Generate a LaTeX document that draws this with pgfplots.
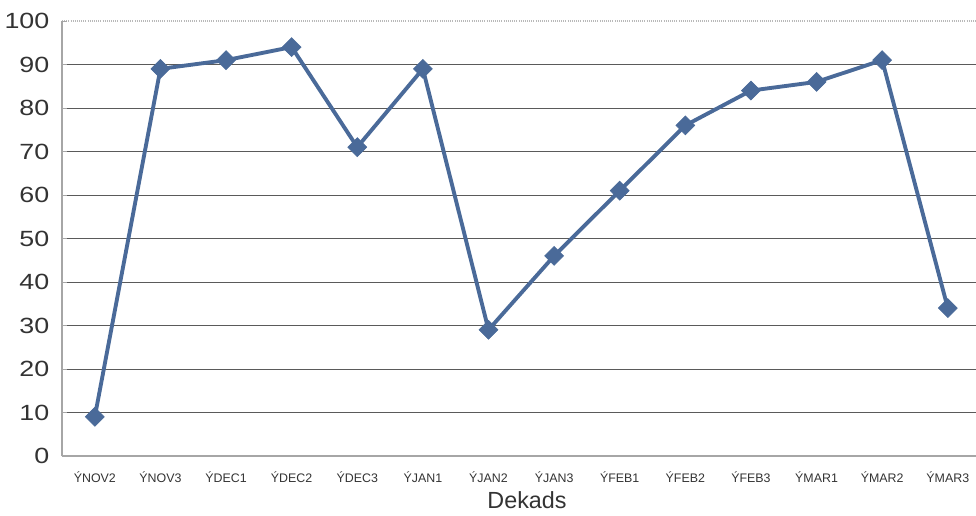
\documentclass[border=0pt]{standalone}
\usepackage{pgfplots}
\pgfplotsset{compat=1.18}
\usepackage{fontspec}
\setmainfont{Liberation Sans}
\newfontfamily\widefont[FakeStretch=1.22]{Liberation Sans}
\definecolor{serie}{HTML}{4A6A99}
\definecolor{gridc}{HTML}{5A5A5A}
\definecolor{txt}{HTML}{333333}
\begin{document}
\begin{tikzpicture}[x=1pt,y=1pt]
\begin{axis}[
  at={(0,0)}, anchor=south west,
  scale only axis,
  width=685.5pt, height=326.25pt,
  xmin=-0.5, xmax=13.43,
  ymin=0, ymax=100,
  axis x line*=bottom, axis y line*=left,
  axis line style={gray!70, line width=0.8pt},
  ytick={0,10,...,90},
  extra y ticks={100},
  extra y tick style={grid style={gray!55, densely dotted, line width=0.8pt}},
  ymajorgrids,
  grid style={gridc, line width=0.6pt},
  major tick length=4pt,
  tick style={gray!70},
  xtick={0,...,13},
  xticklabels={ÝNOV2,ÝNOV3,ÝDEC1,ÝDEC2,ÝDEC3,ÝJAN1,ÝJAN2,ÝJAN3,ÝFEB1,ÝFEB2,ÝFEB3,ÝMAR1,ÝMAR2,ÝMAR3},
  x tick label style={font=\fontsize{9.3}{10}\selectfont, text=txt, yshift=-8pt},
  xtick style={draw=none},
  y tick label style={font=\widefont\fontsize{16.5}{18}\selectfont, text=txt, xshift=-6pt},
  /pgf/number format/assume math mode=true,
  xlabel={Dekads},
  xlabel style={font=\fontsize{17.5}{19}\selectfont, text=txt, yshift=-2.5pt, xshift=6pt, inner sep=1pt},
  clip=false,
]
\addplot[color=serie, line width=2.9pt, mark=square*, mark size=5pt,
  mark options={fill=serie, line width=0.5pt, rotate=45}]
coordinates {
 (0,9) (1,89) (2,91) (3,94) (4,71) (5,89) (6,29)
 (7,46) (8,61) (9,76) (10,84) (11,86) (12,91) (13,34)
};
\end{axis}
\pgfresetboundingbox
\path[use as bounding box] (-46.5,-45) rectangle (685.5,342);
\end{tikzpicture}
\end{document}
